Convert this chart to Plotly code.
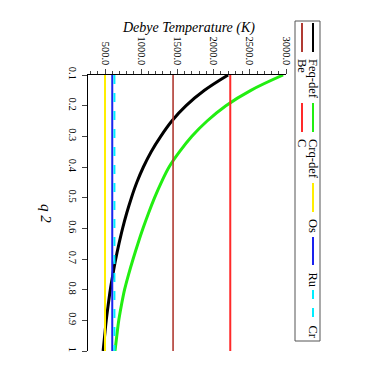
import plotly.graph_objects as go

# q2 grid and Debye temperatures (K)
q2 = [0.1, 0.15, 0.2, 0.25, 0.3, 0.35, 0.4, 0.45, 0.5, 0.55,
      0.6, 0.65, 0.7, 0.75, 0.8, 0.85, 0.9, 0.95, 1.0]
feq_def = [2200, 1874, 1620, 1423, 1270, 1138, 1030, 940, 865, 800,
           743, 693, 648, 609, 573, 544, 517, 495, 474]
crq_def = [2960, 2515, 2170, 1910, 1700, 1530, 1385, 1278, 1185, 1102,
           1025, 954, 888, 826, 770, 727, 690, 663, 638]

# constant reference values for the elements
elements = ["Be", "C", "Os", "Ru", "Cr"]
element_T = [1440, 2230, 500, 600, 630]

q_ticks = [0.1, 0.2, 0.3, 0.4, 0.5, 0.6, 0.7, 0.8, 0.9, 1.0]
q_ticktext = ["0.1", "0.2", "0.3", "0.4", "0.5", "0.6", "0.7", "0.8", "0.9", "1"]
T_ticks = [500, 1000, 1500, 2000, 2500, 3000]

W, H = 382, 382
OFF = 8  # page body margin
L, R, T, B = 88 - OFF, 286 - OFF, 75 - OFF, 351 - OFF
SERIF = "Liberation Serif, Times New Roman, serif"


def px(x):
    # screen pixel -> paper x
    return (x - OFF - L) / (R - L)


def py(y):
    # screen pixel -> paper y
    return (B - (y - OFF)) / (B - T)


styles = {
    "Feq-def": dict(color="black", width=3),
    "Crq-def": dict(color="#22ee11", width=3),
    "Be": dict(color="#b03a32", width=1.6),
    "C": dict(color="#ff2a2a", width=2),
    "Os": dict(color="#ffee00", width=2),
    "Ru": dict(color="#1a22ee", width=2),
    "Cr": dict(color="#00eeff", width=2, dash="dash"),
}

fig = go.Figure()
fig.add_trace(go.Scatter(x=feq_def, y=q2, mode="lines", line_shape="spline",
                         line=styles["Feq-def"], name="Feq-def"))
fig.add_trace(go.Scatter(x=crq_def, y=q2, mode="lines", line_shape="spline",
                         line=styles["Crq-def"], name="Crq-def"))
for name, val in zip(elements, element_T):
    fig.add_trace(go.Scatter(x=[val, val], y=[q_ticks[0], q_ticks[-1]], mode="lines",
                             line=styles[name], name=name))

fig.update_xaxes(side="top", range=[265, 3000], tickvals=T_ticks,
                 tickformat=".1f", tickangle=90, ticks="outside", ticklen=5,
                 tickfont=dict(family=SERIF, size=10.5, color="black"),
                 minor=dict(dtick=100, tick0=0, ticks="outside", ticklen=3),
                 showline=True, linecolor="black", linewidth=1,
                 showgrid=False, zeroline=False)
fig.update_yaxes(range=[1.0, 0.1], tickvals=q_ticks, ticktext=q_ticktext,
                 tickangle=90, ticks="outside", ticklen=5,
                 tickfont=dict(family=SERIF, size=10.5, color="black"),
                 showline=True, linecolor="black", linewidth=1,
                 showgrid=False, zeroline=False)

# axis titles
ann = [
    dict(x=px(188), y=py(28), text="<i>Debye Temperature (K)</i>",
         font=dict(family=SERIF, size=14, color="black")),
    dict(x=px(46), y=py(213), text="<i>q 2</i>", textangle=90,
         font=dict(family=SERIF, size=15, color="black")),
]

# hand-built rotated legend: (name, column x, line start y, line end y, text start y)
legend_items = [
    ("Feq-def", 313, 23, 52, 57),
    ("Crq-def", 313, 103, 132, 137),
    ("Os", 313, 183, 212, 217),
    ("Ru", 313, 237, 265, 270),
    ("Cr", 313, 290, 318, 323),
    ("Be", 302, 23, 52, 57),
    ("C", 302, 103, 132, 137),
]
shapes = [dict(type="rect", xref="paper", yref="paper",
               x0=px(295), x1=px(320), y0=py(341), y1=py(21),
               line=dict(color="#555555", width=1), fillcolor="white")]
for name, cx, y0, y1, ty in legend_items:
    st = dict(styles[name])
    st["width"] = 2
    shapes.append(dict(type="line", xref="paper", yref="paper",
                       x0=px(cx), x1=px(cx), y0=py(y0), y1=py(y1), line=st))
    ann.append(dict(x=px(cx), y=py(ty), text=name, textangle=90,
                    xanchor="center", yanchor="top",
                    font=dict(family=SERIF, size=12.5, color="black")))

for a in ann:
    a.setdefault("xref", "paper")
    a.setdefault("yref", "paper")
    a.setdefault("showarrow", False)
    a.setdefault("xanchor", "center")
    a.setdefault("yanchor", "middle")

fig.update_layout(width=W, height=H, showlegend=False,
                  margin=dict(l=L, r=W - R, t=T, b=H - B, pad=0),
                  paper_bgcolor="white", plot_bgcolor="white",
                  annotations=ann, shapes=shapes)
fig.write_html("out.html")
